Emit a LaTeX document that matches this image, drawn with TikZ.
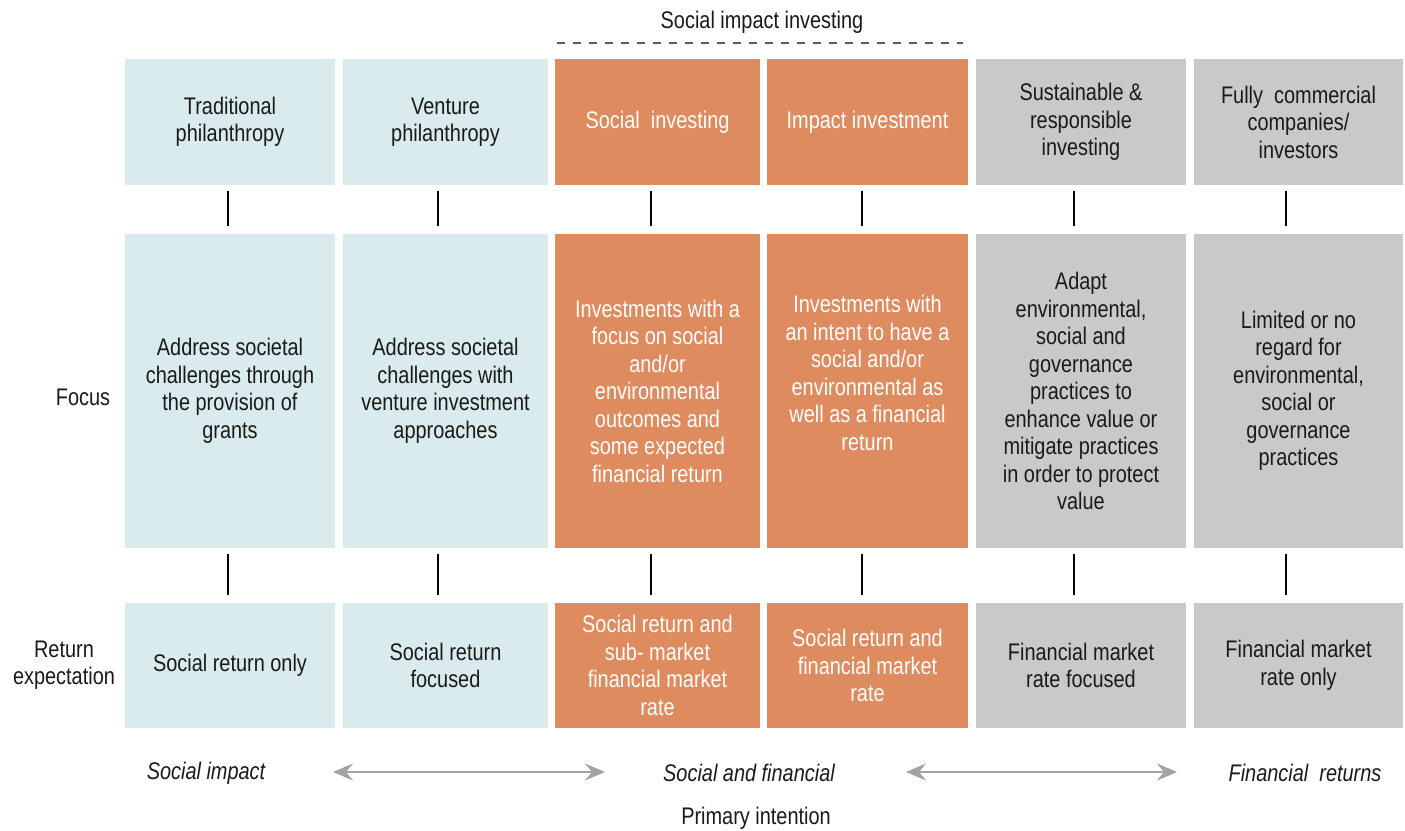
\documentclass[tikz,border=0pt]{standalone}
\usepackage{fontspec}
\setmainfont[FakeStretch=0.83]{Liberation Sans}
\usetikzlibrary{arrows.meta}
\definecolor{lblue}{HTML}{D9EBED}
\definecolor{orng}{HTML}{DE8B5F}
\definecolor{lgray}{HTML}{C9C9C9}
\definecolor{agray}{HTML}{A3A3A3}
\definecolor{txt}{HTML}{1A1A1A}
\begin{document}
\begin{tikzpicture}[x=1pt,y=-1pt,
  basefont/.style={font=\fontsize{24}{27.5}\selectfont},
  box/.style={rectangle, inner sep=0pt, align=center, basefont, text=txt},
  blue/.style={box, fill=lblue},
  orange/.style={box, fill=orng, text=white},
  grey/.style={box, fill=lgray},
  toprow/.style={minimum height=126pt},
  midrow/.style={minimum height=314pt},
  botrow/.style={minimum height=125pt},
  cA/.style={minimum width=210pt},
  cB/.style={minimum width=205pt},
  cC/.style={minimum width=205pt},
  cD/.style={minimum width=201pt},
  cE/.style={minimum width=210pt},
  cF/.style={minimum width=209pt},
  conn/.style={draw=black, line width=1.1pt, shorten <=6pt, shorten >=8pt},
  lbl/.style={basefont, text=txt, align=center, inner sep=0pt},
  ilbl/.style={lbl, font=\fontsize{24}{27.5}\selectfont\itshape},
  span/.style={draw=agray, line width=2.4pt, {Stealth[length=20pt,width=17pt,inset=7pt]}-{Stealth[length=20pt,width=17pt,inset=7pt]}}
]
\useasboundingbox (0,0) rectangle (1405,830);

% title
\node[lbl] (sii) at (762,22) {Social impact investing};
\coordinate (d1) at (557,43);
\coordinate (d2) at (963,43);
\draw[draw=black!65, line width=1.4pt, dash pattern=on 8pt off 8pt] (d1) -- (d2);

% top row
\node[blue, cA, toprow] (t1) at (230,122) {Traditional\\philanthropy};
\node[blue, cB, toprow] (t2) at (445.5,122) {Venture\\philanthropy};
\node[orange, cC, toprow] (t3) at (657.5,122) {Social\ \ investing};
\node[orange, cD, toprow] (t4) at (867.5,122) {Impact investment};
\node[grey, cE, toprow] (t5) at (1081,122) {Sustainable \&\\responsible\\investing};
\node[grey, cF, toprow] (t6) at (1298.5,122) {Fully\ \ commercial\\companies/\\investors};

% middle row
\node[blue, cA, midrow] (m1) at (230,391) {Address societal\\challenges through\\the provision of\\grants};
\node[blue, cB, midrow] (m2) at (445.5,391) {Address societal\\challenges with\\venture investment\\approaches};
\node[orange, cC, midrow] (m3) at (657.5,391) {Investments with a\\focus on social\\and/or\\environmental\\outcomes and\\some expected\\financial return};
\node[orange, cD, midrow] (m4) at (867.5,391) {Investments with\\an intent to have a\\social and/or\\environmental as\\well as a financial\\return\\[8.5pt]~};
\node[grey, cE, midrow] (m5) at (1081,391) {Adapt\\environmental,\\social and\\governance\\practices to\\enhance value or\\mitigate practices\\in order to protect\\value};
\node[grey, cF, midrow] (m6) at (1298.5,391) {Limited or no\\regard for\\environmental,\\social or\\governance\\practices};

% bottom row
\node[blue, cA, botrow] (b1) at (230,665.5) {Social return only};
\node[blue, cB, botrow] (b2) at (445.5,665.5) {Social return\\focused};
\node[orange, cC, botrow] (b3) at (657.5,665.5) {Social return and\\sub- market\\financial market\\rate};
\node[orange, cD, botrow] (b4) at (867.5,665.5) {Social return and\\financial market\\rate};
\node[grey, cE, botrow] (b5) at (1081,665.5) {Financial market\\rate focused};
\node[grey, cF, botrow] (b6) at (1298.5,665.5) {Financial market\\rate only};

% connectors (slightly left of the box centres, as in the original)
\foreach \i/\dx in {1/-2,2/-7.5,3/-6.5,4/-5.5,5/-7,6/-12.5} {
  \draw[conn] ([xshift=\dx pt]t\i.south) -- ([xshift=\dx pt]m\i.north);
  \draw[conn] ([xshift=\dx pt]m\i.south) -- ([xshift=\dx pt]b\i.north);
}

% row labels
\node[lbl] (focus) at (83,397) {Focus};
\node[lbl] (ret) at (64,665) {Return\\expectation};

% bottom scale
\node[ilbl] (si) at (206,773) {Social impact};
\node[ilbl] (sf) at (749,773) {Social and financial};
\node[ilbl] (fr) at (1305,773) {Financial\ \ returns};
\coordinate (a1) at (333,772);
\coordinate (a2) at (605,772);
\coordinate (a3) at (906,772);
\coordinate (a4) at (1177,772);
\draw[span] (a1) -- (a2);
\draw[span] (a3) -- (a4);
\node[lbl] (pi) at (756,818) {Primary intention};
\end{tikzpicture}
\end{document}
